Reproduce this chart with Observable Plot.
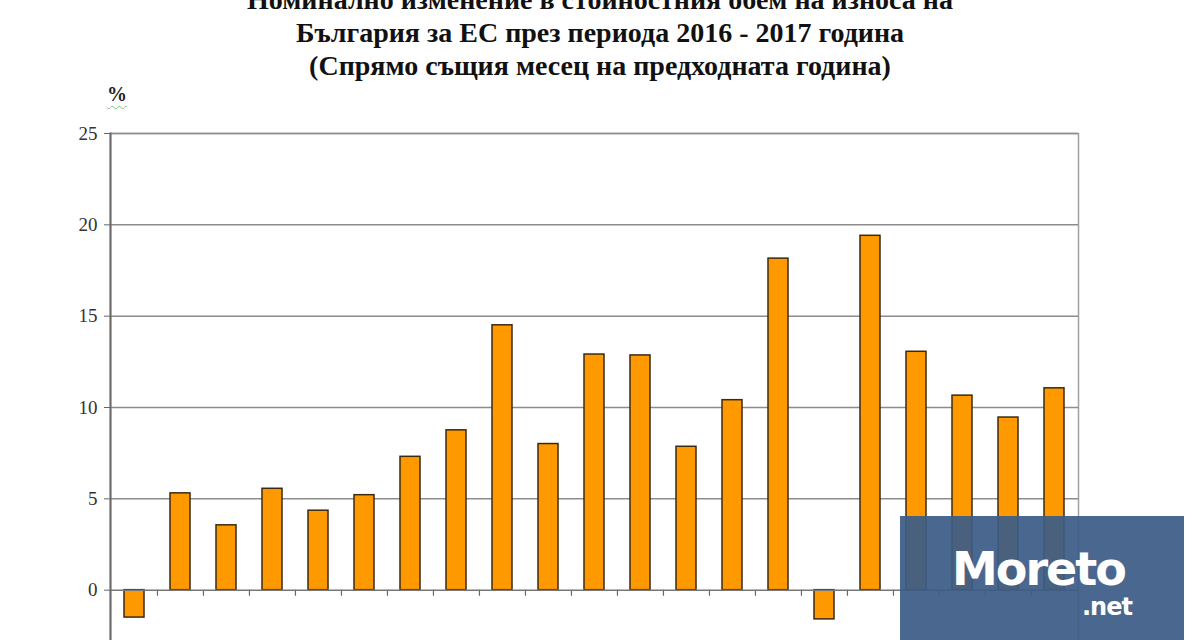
<!DOCTYPE html>
<html>
<head>
<meta charset="utf-8">
<script src="https://cdn.jsdelivr.net/npm/d3@7"></script>
<script src="https://cdn.jsdelivr.net/npm/@observablehq/plot@0.6"></script>
<style>
  html, body { margin: 0; padding: 0; background: #fff; }
  #wrap { position: relative; width: 1200px; height: 640px; overflow: hidden; background: #fff; }
  #title { position: absolute; left: 0; top: -17px; width: 1200px; text-align: center;
           font-family: "Liberation Serif", "Times New Roman", serif; font-weight: bold;
           font-size: 28px; line-height: 33px; color: #111; z-index: 2; }
  #unit { position: absolute; left: 107px; top: 83px; font-family: "Liberation Serif", serif;
          font-weight: bold; font-size: 20px; color: #222; z-index: 2;
          text-decoration: underline wavy #7fc27f; text-decoration-thickness: 1px; text-underline-offset: 4px; }
  #chart { position: absolute; left: 0; top: 0; }
  #logo { position: absolute; left: 900px; top: 516px; width: 284px; height: 124px;
          background: rgba(60, 92, 134, 0.93); z-index: 3; }
  #logo .m { position: absolute; left: 52px; top: 26px; font-family: "DejaVu Sans", sans-serif;
             font-weight: bold; font-size: 46px; color: #fff; letter-spacing: -2px; }
  #logo .n { position: absolute; left: 182px; top: 78px; font-family: "DejaVu Sans", sans-serif;
             font-weight: bold; font-size: 24px; line-height: 26px; color: #fff; letter-spacing: -1px; }
</style>
</head>
<body>
<div id="wrap">
  <div id="title">
    <div>Номинално изменение в стойностния обем на износа на</div>
    <div>България за ЕС през периода 2016 - 2017 година</div>
    <div>(Спрямо същия месец на предходната година)</div>
  </div>
  <div id="unit">%</div>
  <div id="chart"></div>
  <div id="logo"><span class="m">Moreto</span><span class="n">.net</span></div>
</div>
<script>
const months = ["I.16","II.16","III.16","IV.16","V.16","VI.16","VII.16","VIII.16","IX.16","X.16","XI.16","XII.16",
                "I.17","II.17","III.17","IV.17","V.17","VI.17","VII.17","VIII.17","IX.17"];
const values = [-1.5, 5.3, 3.55, 5.55, 4.35, 5.2, 7.3, 8.75, 14.5, 8.0, 12.9, 12.85,
                7.85, 10.4, 18.15, -1.6, 19.4, 13.05, 10.65, 9.45, 11.05];
const yTicks = [0, 5, 10, 15, 20, 25];

const data = months.map((m, i) => ({month: m, value: values[i]}));
const pIn = 0.57, pOut = 0.285;
const step = (1200 - 110 - 122) / (months.length - pIn + 2 * pOut);

const plot = Plot.plot({
  width: 1200,
  height: 700,
  marginTop: 133,
  marginBottom: 19,
  marginLeft: 110,
  marginRight: 122,
  style: {fontFamily: "'Liberation Serif', 'Times New Roman', serif", fontSize: "19px", color: "#333", background: "transparent"},
  x: {domain: months, paddingInner: pIn, paddingOuter: pOut, axis: null},
  y: {domain: [-5, 25], ticks: yTicks, grid: false, label: null},
  marks: [
    Plot.frame({stroke: "#a0a0a0", strokeWidth: 1.5}),
    Plot.ruleY(yTicks.filter(d => d !== 0), {stroke: "#8c8c8c", strokeWidth: 1.5}),
    Plot.ruleX(months.slice(1), {x: d => d, dx: -step / 2, y1: 0, y2: -0.33, stroke: "#666", strokeWidth: 1.2}),
    Plot.barY(data, {x: "month", y: "value", fill: "#ff9900", stroke: "#3b2a12", strokeWidth: 1.5}),
    Plot.ruleY([0], {stroke: "#777", strokeWidth: 1.5}),
    Plot.frame({anchor: "left", stroke: "#6a6a6a", strokeWidth: 2}),
    Plot.axisY({ticks: yTicks, tickSize: 6, tickPadding: 7, stroke: "#666", fill: "#333", label: null, fontSize: 19})
  ]
});
document.getElementById("chart").appendChild(plot);
</script>
</body>
</html>
